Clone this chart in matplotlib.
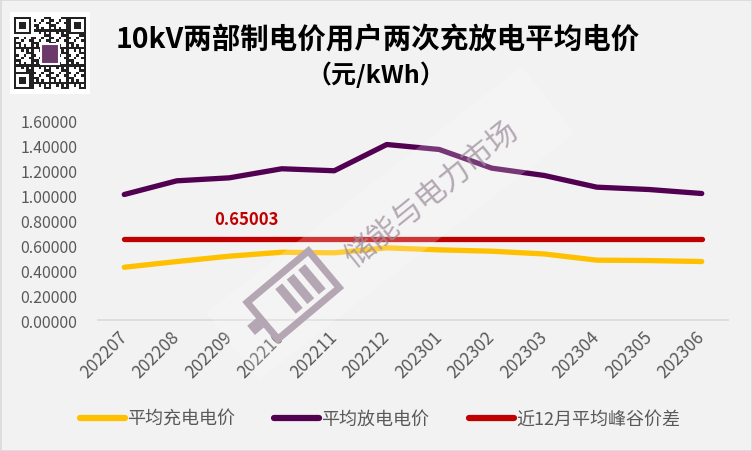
#!/usr/bin/env python3
"""10kV two-part tariff users: average charge/discharge prices."""

import matplotlib as mpl
import matplotlib.pyplot as plt
from matplotlib.patches import Rectangle
from matplotlib.transforms import Affine2D

mpl.rcParams["font.family"] = ["Noto Sans CJK SC", "DejaVu Sans"]

months = ["202207", "202208", "202209", "202210", "202211", "202212",
          "202301", "202302", "202303", "202304", "202305", "202306"]
charge = [0.424, 0.470, 0.513, 0.545, 0.540, 0.580,
          0.564, 0.553, 0.531, 0.481, 0.478, 0.470]
discharge = [1.009, 1.119, 1.143, 1.216, 1.200, 1.411,
             1.371, 1.221, 1.162, 1.068, 1.049, 1.017]
spread = 0.65003
yticks = [0.0, 0.2, 0.4, 0.6, 0.8, 1.0, 1.2, 1.4, 1.6]

C_BG = "#F2F2F2"
C_TXT = "#595959"
C_Y = "#FFC000"
C_P = "#520052"
C_R = "#C00000"

W, H = 752, 452
fig = plt.figure(figsize=(W / 100, H / 100), dpi=100)
fig.patch.set_facecolor(C_BG)

ax = fig.add_axes([98 / W, 1 - 321 / H, 630 / W, 199 / H])
ax.set_facecolor(C_BG)
x = list(range(len(months)))
ax.plot(x, charge, color=C_Y, lw=3.8, solid_capstyle="round", label="平均充电电价")
ax.plot(x, discharge, color=C_P, lw=3.8, solid_capstyle="round", label="平均放电电价")
ax.plot(x, [spread] * len(x), color=C_R, lw=3.8, solid_capstyle="round", label="近12月平均峰谷价差")
ax.text(2.33, 0.815, f"{spread:.5f}", color=C_R, fontsize=12, fontweight="bold",
        ha="center", va="center")

ax.set_xlim(-0.5, len(months) - 0.5)
ax.set_ylim(0, 1.6)
ax.set_yticks(yticks)
ax.set_yticklabels([f"{v:.5f}" for v in yticks])
ax.set_xticks(x)
ax.set_xticklabels(months, rotation=45, ha="right", va="center", rotation_mode="anchor")
ax.tick_params(axis="y", length=0, pad=15, labelsize=11.5, labelcolor=C_TXT)
ax.tick_params(axis="x", length=0, pad=10, labelsize=12.5, labelcolor=C_TXT)
for s in ["top", "right", "left"]:
    ax.spines[s].set_visible(False)
ax.spines["bottom"].set_color("#D9D9D9")
ax.spines["bottom"].set_linewidth(1.2)

leg = fig.legend(loc="center", bbox_to_anchor=(0.505, 1 - 420 / H), ncol=3, frameon=False,
                 fontsize=13, handlelength=2.5, handletextpad=0.1, columnspacing=2.2)
for t in leg.get_texts():
    t.set_color(C_TXT)
for ln in leg.get_lines():
    ln.set_linewidth(4.5)

fig.text(378 / W, 1 - 40 / H, "10kV两部制电价用户两次充放电平均电价", ha="center", va="center",
         fontsize=20.5, fontweight="bold", color="black")
fig.text(376 / W, 1 - 75 / H, "（元/kWh）", ha="center", va="center",
         fontsize=18, fontweight="bold", color="black")

# overlay in pixel coordinates for decorations
ov = fig.add_axes([0, 0, 1, 1])
ov.set_xlim(0, W)
ov.set_ylim(H, 0)
ov.axis("off")
ov.patch.set_alpha(0)

# frame
ov.add_patch(Rectangle((0.5, 0.5), W - 1, H - 1, fill=False, ec="#D9D9D9", lw=1.2))

# QR-code style block
ov.add_patch(Rectangle((10, 13), 80, 82, fc="white", ec="none"))
cells = 29
cs = 72 / cells
for i in range(cells):
    for j in range(cells):
        finder = (i < 7 and j < 7) or (i < 7 and j >= cells - 7) or (i >= cells - 7 and j < 7)
        if finder:
            a = i if i < 7 else i - (cells - 7)
            b = j if j < 7 else j - (cells - 7)
            on = a in (0, 6) or b in (0, 6) or (2 <= a <= 4 and 2 <= b <= 4)
        elif (i == 7 and j < 8) or (j == 7 and i < 8):
            on = False
        else:
            on = ((i * 7 + j * 13 + i * j * 3) % 7) < 3
        if on:
            ov.add_patch(Rectangle((14 + j * cs, 18 + i * cs), cs, cs, fc="#222222", ec="none"))
ov.add_patch(Rectangle((41, 45), 18, 20, fc="#6B3A6B", ec="white", lw=1.5))

# watermark band, logo and text
rot = Affine2D().rotate_deg_around(385, 225, -38) + ov.transData
ov.add_patch(Rectangle((190, 185), 400, 85, fc="white", ec="none", alpha=0.22, transform=rot))
lrot = Affine2D().rotate_deg_around(290, 300, -40) + ov.transData
ov.add_patch(Rectangle((255, 275), 80, 48, fill=False, ec="#B5A6B3", lw=5, transform=lrot))
for k in range(3):
    ov.add_patch(Rectangle((285 + k * 15, 283), 9, 32, fc="#B5A6B3", ec="none", transform=lrot))
ov.add_patch(Rectangle((240, 293), 15, 12, fc="#B5A6B3", ec="none", transform=lrot))
ov.text(432, 195, "储能与电力市场", rotation=39, ha="center", va="center", fontsize=22,
        color="#9E8E9C", alpha=0.75)

fig.savefig("out.png", dpi=100, facecolor=C_BG)
